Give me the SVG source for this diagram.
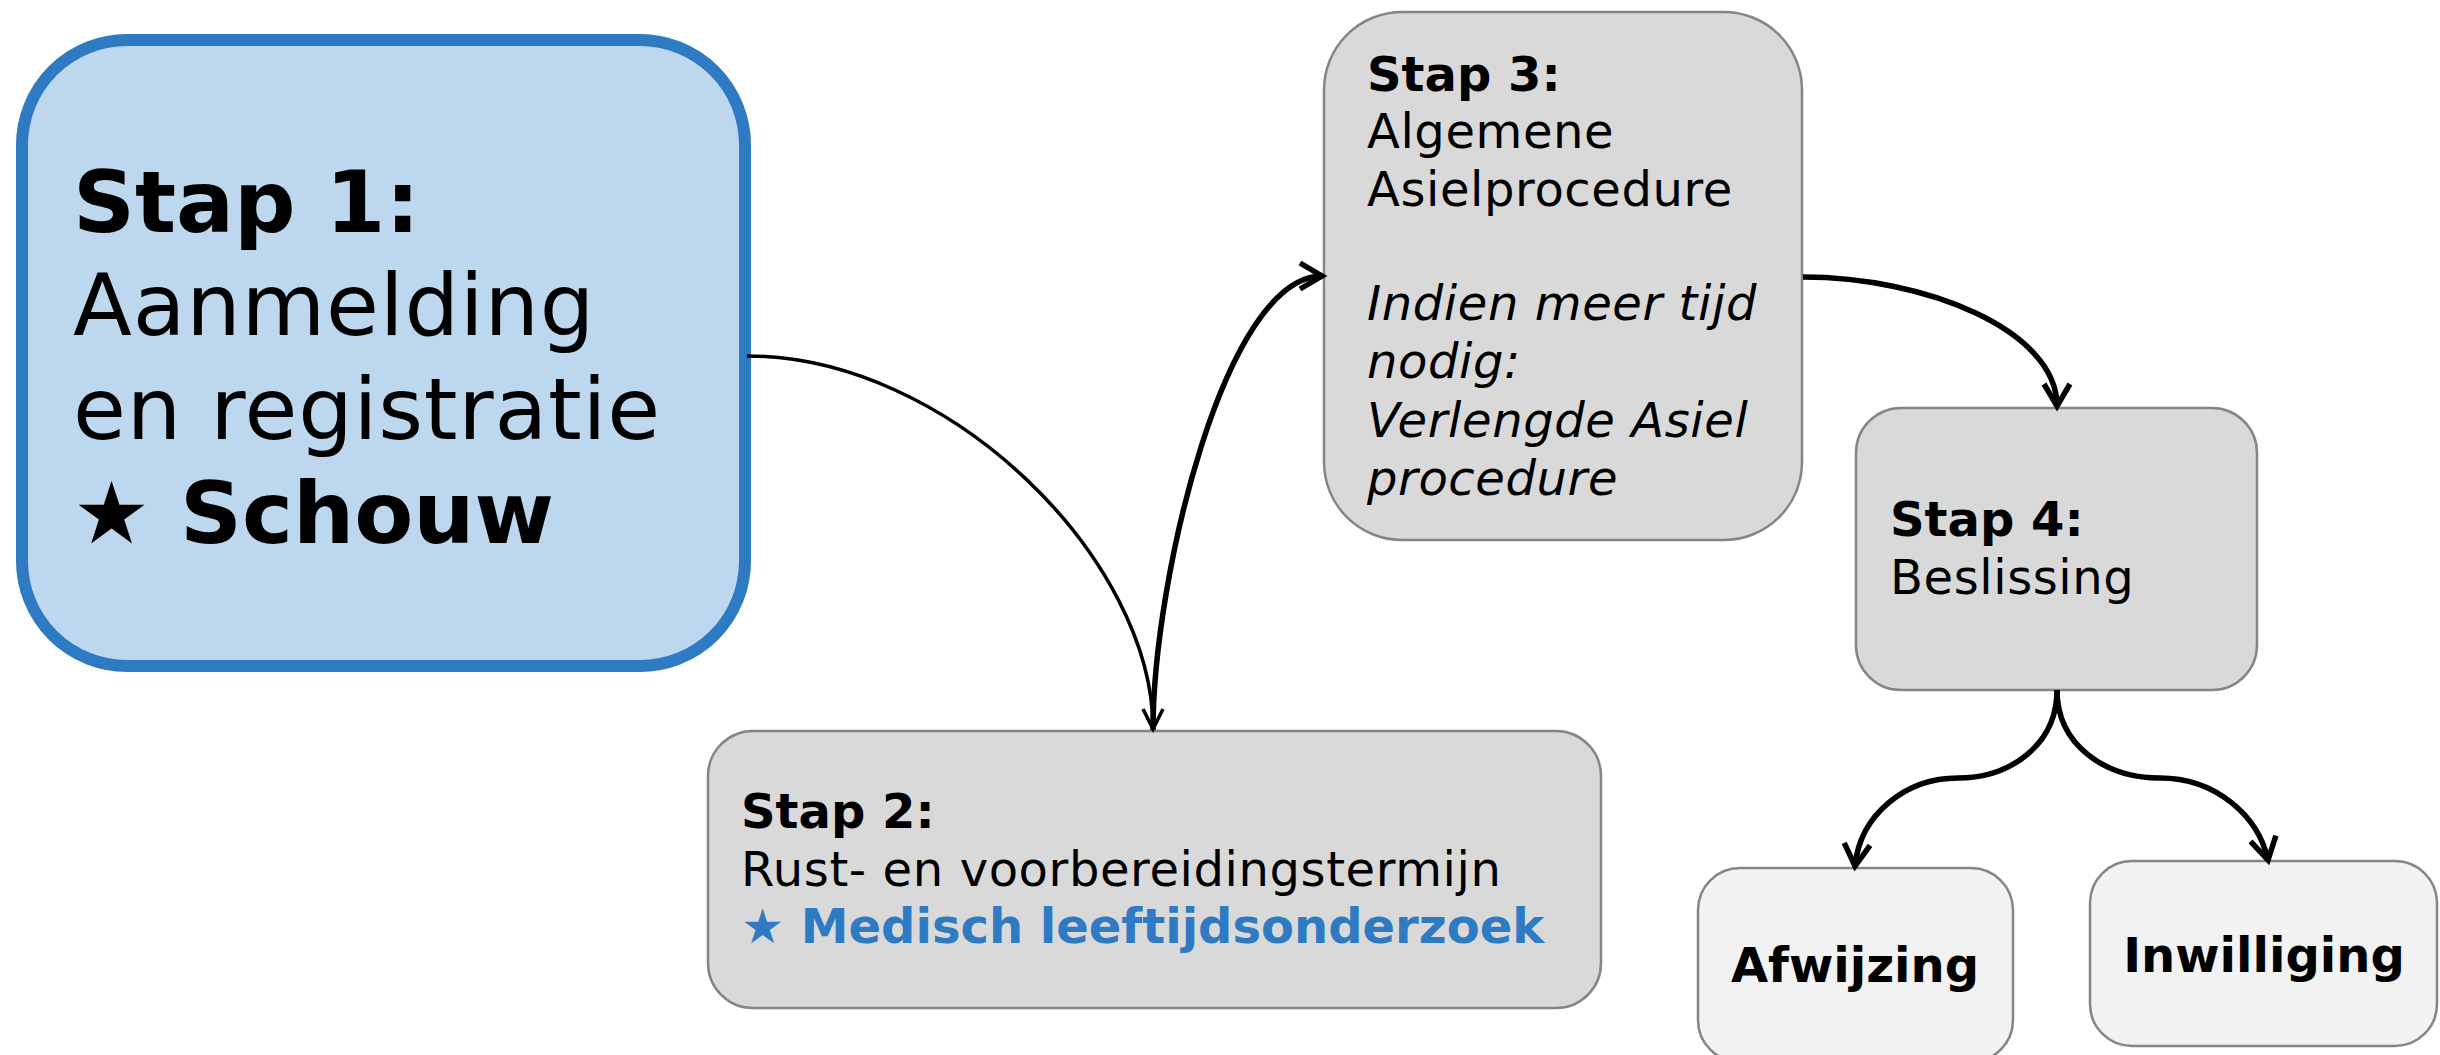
<svg xmlns="http://www.w3.org/2000/svg" width="2440" height="1055" viewBox="0 0 2440 1055">
<style>
text{font-family:"DejaVu Sans","Verdana",sans-serif;fill:#000}
.b{font-weight:bold}
.i{font-style:italic}
.s48{font-size:48px}
.s86{font-size:86px}
.r48{letter-spacing:0.6px}
.r86{letter-spacing:0.8px}
.gray{fill:#d9d9d9;stroke:#858585;stroke-width:2.5}
.light{fill:#f2f2f2;stroke:#858585;stroke-width:2.5}
.blue{fill:#2e7bc4}
.edge{fill:none;stroke:#000;stroke-width:5.5}
.thin{fill:none;stroke:#000;stroke-width:3.5}
</style>
<defs>
<marker id="arrow" markerUnits="userSpaceOnUse" viewBox="-30 -20 40 40" markerWidth="40" markerHeight="40" refX="0" refY="0" orient="auto" overflow="visible">
<path d="M-22,-13 L0,0 L-22,13" fill="none" stroke="#000" stroke-width="5.5"/>
</marker>
<marker id="arrowThin" markerUnits="userSpaceOnUse" viewBox="-30 -20 40 40" markerWidth="40" markerHeight="40" refX="0" refY="0" orient="auto" overflow="visible">
<path d="M-20,-10 L0,0 L-20,10" fill="none" stroke="#000" stroke-width="3.5"/>
</marker>
</defs>
<rect width="2440" height="1055" fill="#fff"/>
<g id="stap1">
<rect x="22" y="40" width="723" height="626" rx="105" ry="105" fill="#bdd7ee" stroke="#2e7bc4" stroke-width="12"/>
<text class="s86 b" x="73" y="232">Stap 1:</text>
<text class="s86 r86" x="73" y="335">Aanmelding</text>
<text class="s86 r86" x="73" y="439">en registratie</text>
<text class="s86 b" x="73" y="543">★ Schouw</text>
</g>
<g id="stap2">
<rect class="gray" x="708" y="731" width="893" height="277" rx="45" ry="45"/>
<text class="s48 b" x="741" y="828">Stap 2:</text>
<text class="s48 r48" x="741" y="886">Rust- en voorbereidingstermijn</text>
<text class="s48 b blue" x="741" y="943">★ Medisch leeftijdsonderzoek</text>
</g>
<g id="stap3">
<rect class="gray" x="1324" y="12" width="478" height="528" rx="78" ry="78"/>
<text class="s48 b" x="1367" y="91">Stap 3:</text>
<text class="s48 r48" x="1367" y="148">Algemene</text>
<text class="s48 r48" x="1367" y="206">Asielprocedure</text>
<text class="s48 i r48" x="1367" y="320">Indien meer tijd</text>
<text class="s48 i r48" x="1367" y="378">nodig:</text>
<text class="s48 i r48" x="1367" y="437">Verlengde Asiel</text>
<text class="s48 i r48" x="1367" y="495">procedure</text>
</g>
<g id="stap4">
<rect class="gray" x="1856" y="408" width="401" height="282" rx="45" ry="45"/>
<text class="s48 b" x="1890" y="536">Stap 4:</text>
<text class="s48 r48" x="1890" y="594">Beslissing</text>
</g>
<g id="afwijzing">
<rect class="light" x="1698" y="868" width="315" height="194" rx="42" ry="42"/>
<text class="s48 b" x="1855" y="982" text-anchor="middle">Afwijzing</text>
</g>
<g id="inwilliging">
<rect class="light" x="2090" y="861" width="347" height="185" rx="42" ry="42"/>
<text class="s48 b" x="2264" y="972" text-anchor="middle">Inwilliging</text>
</g>
<g id="connectors">
<path class="thin" d="M747,356 C950,356 1153,560 1153,729" marker-end="url(#arrowThin)"/>
<path class="edge" d="M1153,730 C1153,580 1225,276 1322,276" marker-end="url(#arrow)"/>
<path class="edge" d="M1803,277 C1925,277 2057,330 2057,406" marker-end="url(#arrow)"/>
<path class="edge" d="M2057,690 C2057,745 2010,778 1958,778 C1905,778 1860,815 1855,866" marker-end="url(#arrow)"/>
<path class="edge" d="M2057,690 C2057,745 2105,778 2160,778 C2215,778 2258,815 2268,860" marker-end="url(#arrow)"/>
</g>
</svg>
